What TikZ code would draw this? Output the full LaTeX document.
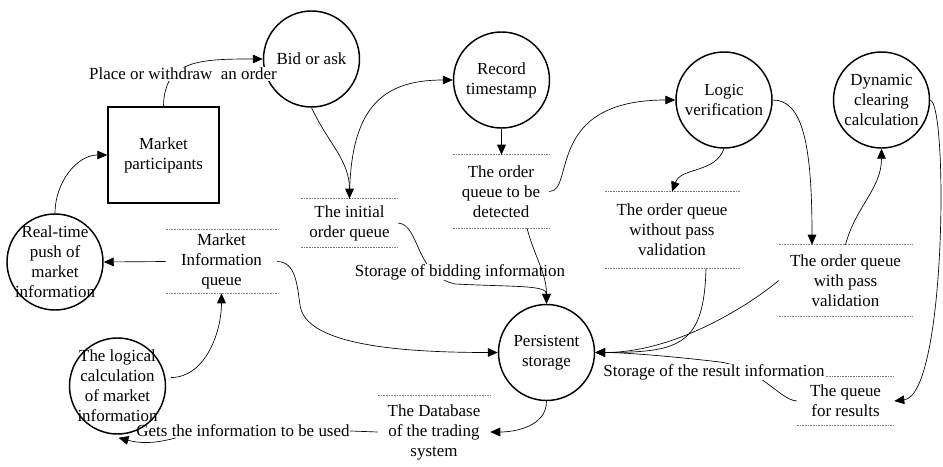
\documentclass[tikz,border=0pt]{standalone}
\usepackage{fontspec}
\setmainfont{Liberation Serif}
\usetikzlibrary{arrows.meta,calc}
\begin{document}
\begin{tikzpicture}[x=0.75pt,y=-0.75pt,
  every node/.style={font=\rmfamily\fontsize{12.7pt}{15pt}\selectfont},
  proc/.style={circle,draw,line width=1.1pt,minimum size=72pt,inner sep=0pt},
  ptext/.style={align=center,inner sep=0pt},
  ent/.style={rectangle,draw,line width=1.1pt,minimum width=83.25pt,minimum height=72pt,align=center},
  queue/.style={align=center,inner sep=0pt},
  qline/.style={gray,line width=0.5pt,dash pattern=on 0.6pt off 0.6pt},
  flow/.style={-{Triangle[length=7.5pt,width=6.5pt]},line width=0.5pt},
  plain/.style={line width=0.5pt},
  lab/.style={fill=white,inner sep=0.5pt}
]
\useasboundingbox (0,0) rectangle (943,467);

% processes
\node[proc,label={[ptext]center:Bid or ask}] (bid) at (311.5,59) {};
\node[proc,label={[ptext]center:Record\\timestamp}] (rec) at (501.5,80) {};
\node[proc,label={[ptext]center:Logic\\verification}] (lv) at (724,100) {};
\node[proc,label={[ptext]center:Dynamic\\clearing\\calculation}] (dcc) at (881.5,100) {};
\node[proc,label={[ptext]center:Real-time\\push of\\market\\information}] (rt) at (55,262) {};
\node[proc,label={[ptext]center:The logical\\calculation\\of market\\information}] (lc) at (117.5,386) {};
\node[proc,label={[ptext]center:Persistent\\storage}] (ps) at (546.5,352.5) {};

% external entity
\node[ent] (mp) at (163.5,155) {Market\\participants};

% queues
\node[queue,minimum width=72.75pt,minimum height=36pt] (qinit) at (349.5,223) {The initial\\order queue};
\node[queue,minimum width=83.25pt,minimum height=47.25pt] (qmkt) at (221.5,261.5) {Market\\Information\\queue};
\node[queue,minimum width=72pt,minimum height=54.75pt] (qdet) at (501,191.5) {The order\\queue to be\\detected};
\node[queue,minimum width=100.5pt,minimum height=57pt] (qnot) at (672,230) {The order queue\\without pass\\validation};
\node[queue,minimum width=99.75pt,minimum height=53.25pt] (qpass) at (845.5,280.5) {The order queue\\with pass\\validation};
\node[queue,minimum width=72.75pt,minimum height=36pt] (qres) at (845.5,401) {The queue\\for results};
\node[queue,minimum width=84pt,minimum height=54pt] (qdb) at (434,432) {The Database\\of the trading\\system};

\foreach \q in {qinit,qmkt,qdet,qnot,qpass,qres}{
  \draw[qline] (\q.north west) -- (\q.north east) (\q.south west) -- (\q.south east);
}
\draw[qline] (qdb.north west) -- (qdb.north east);

% connectors that pass under labels
\draw[flow] (mp.north) .. controls (164,60) and (200,59) .. (bid.west);
\draw[flow] (qinit.east) .. controls (420,225) and (415,275) .. (455,284)
  .. controls (515,287) and (546.5,285) .. (ps.north);
\draw[flow] (qres.west) .. controls (780,400) and (760,368) .. (720,362)
  .. controls (660,355) and (620,352.5) .. (ps.east);

% labels
\node[lab] (lplace) at (183,74) {Place or withdraw\ \ an order};
\node[lab] (lbid) at (460,272) {Storage of bidding information};
\node[lab] (lres) at (714,372) {Storage of the result information};
\node[inner sep=0.5pt] (lgets) at (243,431) {Gets the information to be used};

% remaining connectors
\draw[flow] (rt.north) to[out=90,in=180] (mp.west);
\draw[flow] (bid.south) to[out=-65,in=90] (qinit.north);
\draw[flow] (qinit.north) .. controls (350,110) and (380,80) .. (rec.west);
\draw[flow] (rec.south) -- (rec.south |- qdet.north);
\draw[flow] (qdet.east) .. controls +(26,0) and +(-131,0) .. (lv.west);
\draw[flow] (lv.south) to[out=-110,in=70] (qnot.north);
\draw[flow] (lv.east) .. controls +(30,0) and +(0,-100) .. ($(qpass.north)+(-33.5,0)$);
\draw[flow] (qpass.north) to[out=75,in=-90] (dcc.south);
\draw[flow] (dcc.east) .. controls +(18,5) and +(52,-6) .. (qres.east);
\draw[flow] ($(qdet.south)+(26,0)$) to[out=-75,in=90] (ps.north);
\draw[flow] (qmkt.east) .. controls (296,262) and (297,285) .. (300,305)
  .. controls (305,345) and (400,352.5) .. (ps.west);
\draw[flow] (qmkt.west) -- (rt.east);
\draw[flow,shorten <=4pt] (lc.10) to[out=0,in=-90] (qmkt.south);
\draw[flow] ($(qnot.south)+(34,0)$) .. controls +(-2,77) and +(85,0) .. (ps.east);
\draw[flow] (qpass.west) .. controls +(-30,25) and +(80,0) .. (ps.east);
\draw[flow] (ps.south) to[out=-90,in=0] (qdb.east);
\draw[plain] (qdb.west) -- (lgets.east);
\draw[flow] ($(lgets.south west)+(40,0)$) to[out=195,in=-15] ($(lc.south)+(1,3)$);
\end{tikzpicture}
\end{document}
